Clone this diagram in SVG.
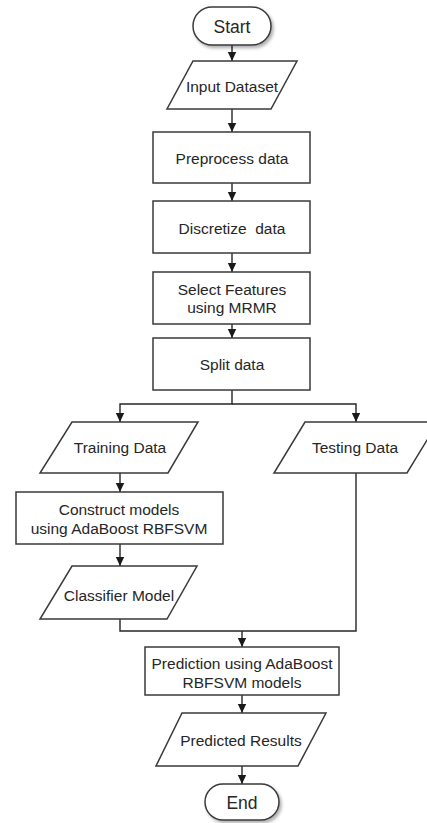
<svg xmlns="http://www.w3.org/2000/svg" width="427" height="823" viewBox="0 0 427 823">
  <style>
    .shape { fill: #ffffff; stroke: #3a3a3a; stroke-width: 1.5; }
    .term { fill: #ffffff; stroke: #3a3a3a; stroke-width: 1.5; filter: url(#shadow); }
    .lbl { font-family: "Liberation Sans", Arial, sans-serif; font-size: 15.5px; fill: #262626; text-anchor: middle; dominant-baseline: central; white-space: pre; }
    .big { font-size: 17.5px; }
    .conn { fill: none; stroke: #262626; stroke-width: 1.4; }
  </style>
  <defs>
    <marker id="arrow" markerUnits="userSpaceOnUse" markerWidth="10" markerHeight="10" refX="9" refY="5" orient="auto">
      <path d="M0,0.8 L9,5 L0,9.2 Z" fill="#1a1a1a"/>
    </marker>
    <filter id="shadow" x="-20%" y="-20%" width="150%" height="160%">
      <feDropShadow dx="2" dy="2.5" stdDeviation="1.5" flood-color="#000" flood-opacity="0.3"/>
    </filter>
  </defs>

  <!-- connectors -->
  <g id="connectors">
    <path class="conn" d="M232,45 V61" marker-end="url(#arrow)"/>
    <path class="conn" d="M232,109 V132" marker-end="url(#arrow)"/>
    <path class="conn" d="M232,183 V201" marker-end="url(#arrow)"/>
    <path class="conn" d="M232,253 V272" marker-end="url(#arrow)"/>
    <path class="conn" d="M232,324 V338" marker-end="url(#arrow)"/>
    <path class="conn" d="M232,390 V404 H120 V422" marker-end="url(#arrow)"/>
    <path class="conn" d="M232,404 H356 V422" marker-end="url(#arrow)"/>
    <path class="conn" d="M120,473 V492" marker-end="url(#arrow)"/>
    <path class="conn" d="M120,544 V566" marker-end="url(#arrow)"/>
    <path class="conn" d="M120,619 V631 H356 V473"/>
    <path class="conn" d="M242,631 V647" marker-end="url(#arrow)"/>
    <path class="conn" d="M242,695 V713" marker-end="url(#arrow)"/>
    <path class="conn" d="M242,766 V784" marker-end="url(#arrow)"/>
  </g>

  <g id="start">
    <rect class="term" x="193" y="7" width="78" height="38" rx="19" ry="19"/>
    <text class="lbl big" x="232" y="27">Start</text>
  </g>

  <g id="input-dataset">
    <polygon class="shape" points="193,61 297,61 271,109 167,109"/>
    <text class="lbl" x="232" y="86">Input Dataset</text>
  </g>

  <g id="preprocess">
    <rect class="shape" x="153" y="132" width="157" height="51"/>
    <text class="lbl" x="232" y="158">Preprocess data</text>
  </g>

  <g id="discretize">
    <rect class="shape" x="153" y="201" width="157" height="52"/>
    <text class="lbl" x="232" y="228">Discretize  data</text>
  </g>

  <g id="select-features">
    <rect class="shape" x="153" y="272" width="157" height="52"/>
    <text class="lbl" x="232" y="289">Select Features</text>
    <text class="lbl" x="232" y="307">using MRMR</text>
  </g>

  <g id="split">
    <rect class="shape" x="153" y="338" width="157" height="52"/>
    <text class="lbl" x="232" y="364">Split data</text>
  </g>

  <g id="training-data">
    <polygon class="shape" points="72,422 198,422 168,473 40,473"/>
    <text class="lbl" x="120" y="447">Training Data</text>
  </g>

  <g id="testing-data">
    <polygon class="shape" points="305,422 438,422 407,473 274,473"/>
    <text class="lbl" x="355" y="447">Testing Data</text>
  </g>

  <g id="construct-models">
    <rect class="shape" x="16" y="492" width="207" height="52"/>
    <text class="lbl" x="119" y="509">Construct models</text>
    <text class="lbl" x="119" y="528">using AdaBoost RBFSVM</text>
  </g>

  <g id="classifier-model">
    <polygon class="shape" points="72,566 197,566 167,619 40,619"/>
    <text class="lbl" x="119" y="595">Classifier Model</text>
  </g>

  <g id="prediction">
    <rect class="shape" x="145" y="647" width="194" height="48"/>
    <text class="lbl" x="242" y="663">Prediction using AdaBoost</text>
    <text class="lbl" x="242" y="682">RBFSVM models</text>
  </g>

  <g id="predicted-results">
    <polygon class="shape" points="182,713 326,713 298,766 156,766"/>
    <text class="lbl" x="241" y="740">Predicted Results</text>
  </g>

  <g id="end">
    <rect class="term" x="205" y="784" width="74" height="36" rx="18" ry="18"/>
    <text class="lbl big" x="242" y="803">End</text>
  </g>
</svg>
